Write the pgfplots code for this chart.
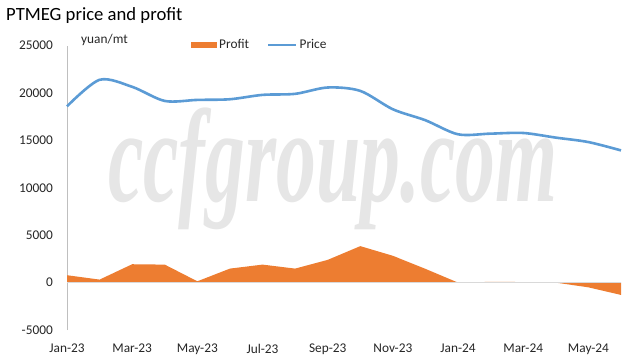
\documentclass[border=0pt]{standalone}
\usepackage{pgfplots}
\pgfplotsset{compat=1.18}
\usepackage{fontspec}
\setmainfont{Carlito}
\newfontfamily\wmfont{Liberation Serif}
\definecolor{cprofit}{HTML}{ED7D31}
\definecolor{cprice}{HTML}{5B9BD5}
\definecolor{caxis}{HTML}{BFBFBF}
\definecolor{czero}{HTML}{D9D9D9}
\definecolor{ctext}{HTML}{262626}
\definecolor{cwm}{HTML}{E6E6E6}
\begin{document}
\begin{tikzpicture}
\useasboundingbox (0,0) rectangle (641bp,360bp);
% watermark
\node[anchor=base, inner sep=0pt, text=cwm, xscale=0.6] at (333bp,158bp)
  {\fontsize{133bp}{140bp}\selectfont\wmfont\bfseries\itshape ccfgroup.com};
% title and unit
\node[anchor=base west, inner sep=0pt, text=black] at (6bp,339bp)
  {\fontsize{18.67bp}{22bp}\selectfont PTMEG price and profit};
\node[anchor=base west, inner sep=0pt, text=ctext] at (81bp,316bp)
  {\fontsize{13.33bp}{16bp}\selectfont yuan/mt};
\begin{axis}[
  at={(67bp,30bp)}, anchor=south west,
  scale only axis, width=554bp, height=284.3bp,
  xmin=0, xmax=17, ymin=-5000, ymax=25000,
  clip=false,
  axis y line*=left, axis x line*=bottom,
  y axis line style={draw=caxis, line width=1bp},
  x axis line style={draw=none},
  major tick length=0pt,
  xtick={0,2,...,16},
  xticklabels={Jan-23,Mar-23,May-23,Jul-23,Sep-23,Nov-23,Jan-24,Mar-24,May-24},
  ytick={-5000,0,...,25000},
  scaled y ticks=false,
  /pgf/number format/.cd, 1000 sep={}, assume math mode=true,
  /pgfplots/.cd,
  tick label style={font=\fontsize{13.33bp}{16bp}\selectfont, text=ctext, inner sep=0pt},
  yticklabel style={xshift=-14bp},
  xticklabel style={yshift=-14bp},
  legend columns=2,
  legend style={at={(axis description cs:0.2238,1.002)}, anchor=west, draw=none, fill=none,
    inner sep=0pt, font=\fontsize{13.33bp}{16bp}\selectfont, text=ctext,
    /tikz/every even column/.append style={column sep=16bp}},
]
\addplot[fill=cprofit, draw=none,
  legend image code/.code={\fill[cprofit] (0bp,-2.7bp) rectangle (26bp,2.7bp);}]
  coordinates {
  (0,0) (0,780) (1,320) (2,1940) (3,1900) (4,140) (5,1480) (6,1900) (7,1480)
  (8,2400) (9,3850) (10,2830) (11,1450) (12,0) (13,80) (14,60) (15,0)
  (16,-500) (17,-1300) (17,0)
  };
\addlegendentry{Profit}
\addplot[czero, line width=1.2bp, forget plot] coordinates {(0,0) (17,0)};
\addplot[cprice, line width=2.6bp, smooth, tension=0.5,
  legend image code/.code={\draw[cprice, line width=2.6bp] (0bp,0bp) -- (28bp,0bp);}]
  coordinates {
  (0,18600) (1,21400) (2,20660) (3,19170) (4,19280) (5,19350) (6,19810) (7,19920)
  (8,20590) (9,20230) (10,18290) (11,17130) (12,15650) (13,15720) (14,15790)
  (15,15300) (16,14830) (17,13950)
  };
\addlegendentry{Price}
\end{axis}
\end{tikzpicture}
\end{document}
